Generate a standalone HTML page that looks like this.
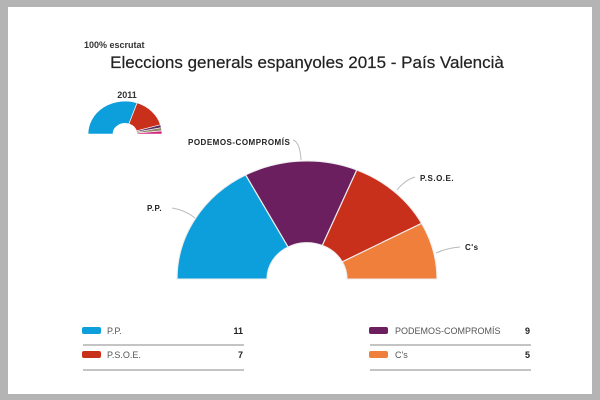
<!DOCTYPE html>
<html><head><meta charset="utf-8"><style>
html,body{margin:0;padding:0;}
body{width:600px;height:400px;background:#b4b4b4;position:relative;overflow:hidden;font-family:"Liberation Sans",sans-serif;}
.card{position:absolute;left:8px;top:7px;width:584px;height:387px;background:#fff;}
</style></head><body>
<div class="card"></div>
<svg width="600" height="400" style="position:absolute;left:0;top:0" font-family="Liberation Sans, sans-serif">
<text x="84" y="48" font-size="9" font-weight="bold" fill="#333">100% escrutat</text>
<text x="307" y="68" font-size="17" text-anchor="middle" fill="#222" stroke="#222" stroke-width="0.2">Eleccions generals espanyoles 2015 - País Valencià</text>
<!-- small 2011 -->
<text x="127" y="98" font-size="9" font-weight="bold" text-anchor="middle" fill="#333">2011</text>
<g transform="translate(125,134) scale(1,0.89) translate(-125,-134)" stroke="#fff" stroke-width="0.7">
<path d="M88,134 A37,37 0 0 1 137.1,99 L128.9,122.7 A12,12 0 0 0 113,134 Z" fill="#0c9fdb"/>
<path d="M137.1,99 A37,37 0 0 1 160.5,123.6 L136.5,130.6 A12,12 0 0 0 128.9,122.7 Z" fill="#c9301c"/>
<path d="M160.5,123.6 A37,37 0 0 1 161.3,126.9 L136.8,131.7 A12,12 0 0 0 136.5,130.6 Z" fill="#5a2a5a"/>
<path d="M161.3,126.9 A37,37 0 0 1 161.8,130.5 L136.9,132.9 A12,12 0 0 0 136.8,131.7 Z" fill="#8a8a6a"/>
<path d="M161.8,130.5 A37,37 0 0 1 162,134 L137,134 A12,12 0 0 0 136.9,132.9 Z" fill="#d2237a"/>
</g>
<!-- main -->
<g transform="translate(307,279) scale(1,0.908) translate(-307,-279)" stroke="#eee" stroke-width="1.2">
<path d="M177,279 A130,130 0 0 1 245.7,164.4 L288.1,243.7 A40,40 0 0 0 267,279 Z" fill="#0c9fdb"/>
<path d="M245.7,164.4 A130,130 0 0 1 356.8,158.9 L322.3,242 A40,40 0 0 0 288.1,243.7 Z" fill="#6b1f5f"/>
<path d="M356.8,158.9 A130,130 0 0 1 421.6,217.7 L342.3,260.1 A40,40 0 0 0 322.3,242 Z" fill="#c9301c"/>
<path d="M421.6,217.7 A130,130 0 0 1 437,279 L347,279 A40,40 0 0 0 342.3,260.1 Z" fill="#ef7f3a"/>
</g>
<g stroke="#bbb" stroke-width="1" fill="none">
<path d="M172,208 Q185,210 195,218"/>
<path d="M293,140 Q300,142 301,160"/>
<path d="M415,177 Q405,180 397,190"/>
<path d="M460,247 Q447,248 436,253"/>
</g>
<g font-size="8" font-weight="bold" fill="#222" letter-spacing="0.5">
<text x="147" y="211">P.P.</text>
<text x="188" y="145">PODEMOS-COMPROMÍS</text>
<text x="420" y="181">P.S.O.E.</text>
<text x="465" y="250">C's</text>
</g>
<!-- legend -->
<g font-size="9" fill="#555">
<rect x="82" y="327" width="19" height="7" rx="2" fill="#0c9fdb"/>
<text x="107" y="334">P.P.</text>
<text x="243" y="334" text-anchor="end" font-weight="bold" fill="#222">11</text>
<line x1="83" y1="345" x2="244" y2="345" stroke="#888"/>
<rect x="82" y="351" width="19" height="7" rx="2" fill="#c9301c"/>
<text x="107" y="358">P.S.O.E.</text>
<text x="243" y="358" text-anchor="end" font-weight="bold" fill="#222">7</text>
<line x1="83" y1="370" x2="244" y2="370" stroke="#888"/>
<rect x="369" y="327" width="19" height="7" rx="2" fill="#6b1f5f"/>
<text x="395" y="334">PODEMOS-COMPROMÍS</text>
<text x="530" y="334" text-anchor="end" font-weight="bold" fill="#222">9</text>
<line x1="370" y1="345" x2="531" y2="345" stroke="#888"/>
<rect x="369" y="351" width="19" height="7" rx="2" fill="#ef7f3a"/>
<text x="395" y="358">C's</text>
<text x="530" y="358" text-anchor="end" font-weight="bold" fill="#222">5</text>
<line x1="370" y1="370" x2="531" y2="370" stroke="#888"/>
</g>
</svg>
</body></html>
